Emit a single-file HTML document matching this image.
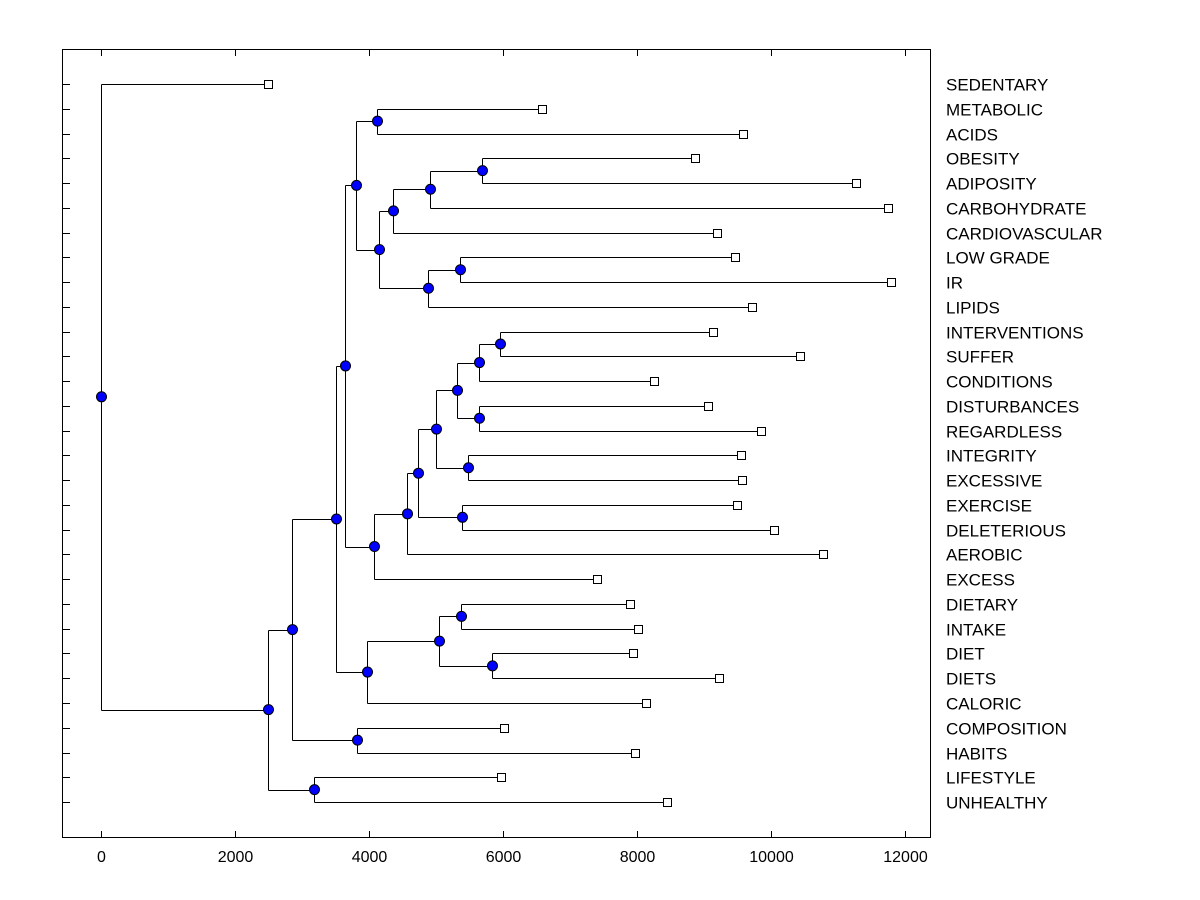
<!DOCTYPE html>
<html><head><meta charset="utf-8"><style>
body{margin:0;background:#fff}
svg{display:block;font-family:"Liberation Sans",sans-serif}
</style></head><body>
<svg id="chart" width="1200" height="900">
<rect x="62.5" y="49.5" width="868" height="788" fill="none" stroke="#000"/>
<g id="axes"></g><g id="links"></g><g id="marks"></g>
</svg>
<script>
const leafNames=["SEDENTARY","METABOLIC","ACIDS","OBESITY","ADIPOSITY","CARBOHYDRATE","CARDIOVASCULAR","LOW GRADE","IR","LIPIDS","INTERVENTIONS","SUFFER","CONDITIONS","DISTURBANCES","REGARDLESS","INTEGRITY","EXCESSIVE","EXERCISE","DELETERIOUS","AEROBIC","EXCESS","DIETARY","INTAKE","DIET","DIETS","CALORIC","COMPOSITION","HABITS","LIFESTYLE","UNHEALTHY"];
const leafValues=[2493,6582,9582,8866,11269,11746,9194,9463,11791,9716,9134,10433,8254,9060,9851,9552,9567,9493,10045,10776,7403,7896,8015,7940,9224,8134,6015,7970,5970,8448];
// merges bottom-up: [childA, childB, height]; numbers = leaf index, "n#" = earlier merge index
const mergeA=[1,3,"n1","n2",7,"n4","n3","n0",10,"n8",13,"n9",15,"n11",17,"n13","n15","n16","n7",21,23,"n19","n21","n18",26,"n23",28,"n25",0];
const mergeB=[2,4,5,6,8,9,"n5","n6",11,12,14,"n10",16,"n12",18,"n14",19,20,"n17",22,24,"n20",25,"n22",27,"n24",29,"n26","n27"];
const mergeH=[4119,5687,4910,4358,5358,4881,4149,3806,5955,5642,5642,5313,5478,5000,5388,4731,4567,4075,3642,5373,5836,5045,3970,3507,3821,2851,3179,2493,0];
const xTicks=[0,2000,4000,6000,8000,10000,12000];
const X=v=>101+v*0.067;
const Y=i=>84+i*24.76;
const NS="http://www.w3.org/2000/svg";
function mk(tag,attrs,parent){const e=document.createElementNS(NS,tag);for(const k in attrs)e.setAttribute(k,attrs[k]);parent.appendChild(e);return e;}
const axes=document.getElementById('axes'),links=document.getElementById('links'),marks=document.getElementById('marks');
xTicks.forEach(t=>{
 const x=Math.round(X(t))+0.5;
 const l1=mk('line',{x1:x,x2:x,y1:49.5,y2:56,stroke:'#000'},axes);
 
 
 const l2=mk('line',{x1:x,x2:x,y1:831,y2:837.5,stroke:'#000'},axes);
 
 
 const tx=mk('text',{x:x,y:862,'text-anchor':'middle','font-size':16},axes);
 tx.textContent=t;
 
 
});
leafNames.forEach((n,i)=>{
 const y=Math.round(Y(i))+0.5;
 const t=mk('line',{x1:62.5,x2:70,y1:y,y2:y,stroke:'#000'},axes);
 
 
 const tx=mk('text',{x:946,y:y+6,'font-size':17},axes);
 tx.textContent=n;
 
 
});
const nodeY={};
function ref(c){return typeof c==='string'?{x:X(mergeH[+c.slice(1)]),y:nodeY[c]}:{x:X(leafValues[c]),y:Y(c)};}
mergeH.forEach((h,k)=>{
 const a=ref(mergeA[k]),b=ref(mergeB[k]);
 const px=Math.round(X(h))+0.5;
 nodeY['n'+k]=(a.y+b.y)/2;
 [a,b].forEach(c=>{
  const l=mk('line',{x1:px,x2:c.x,y1:Math.round(c.y)+0.5,y2:Math.round(c.y)+0.5,stroke:'#000'},links);
  
  
 });
 const v=mk('line',{x1:px,x2:px,y1:Math.round(a.y)+0.5,y2:Math.round(b.y)+0.5,stroke:'#000'},links);
 
 
});
mergeH.forEach((h,k)=>{
 const c=mk('circle',{cx:Math.round(X(h))+0.5,cy:nodeY['n'+k],r:5,fill:'#0000ff',stroke:'#000'},marks);
 
 
});
leafValues.forEach((v,i)=>{
 const r=mk('rect',{x:Math.round(X(v))-3.5,y:Math.round(Y(i))-3.5,width:8,height:8,fill:'#fff',stroke:'#000'},marks);
 
 
});
</script>
</body></html>
